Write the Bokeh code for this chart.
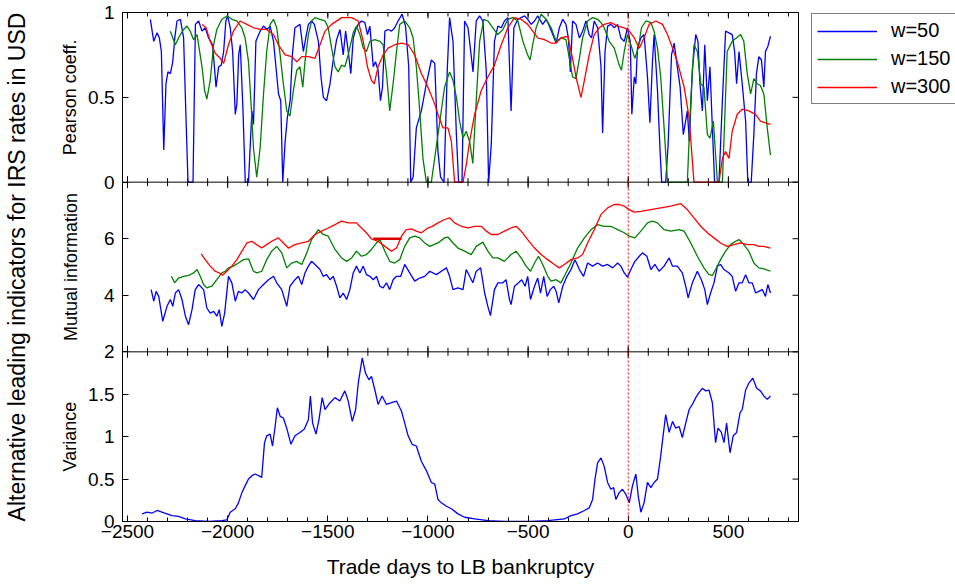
import math
from bokeh.plotting import figure
from bokeh.layouts import row
from bokeh.models import Range1d, LinearAxis, FixedTicker, Span, Legend, LegendItem
from bokeh.embed import file_html
from bokeh.resources import INLINE

# ---------------- data ----------------
# Pearson coefficient, w=50
pc50_x = [-2386, -2369, -2352, -2341, -2331, -2319, -2308, -2298, -2286, -2274, -2264, -2253, -2236, -2220, -2208, -2198,
          -2173, -2161, -2145, -2128, -2112, -2095, -2075, -2058, -2045, -2032, -2020, -2009, -2000, -1987, -1975, -1962,
          -1954, -1945, -1937, -1924, -1912, -1896, -1879, -1871, -1859, -1838, -1821, -1804, -1788, -1771, -1746, -1735,
          -1725, -1713, -1702, -1688, -1677, -1664, -1639, -1622, -1610, -1597, -1581, -1567, -1547, -1534, -1522, -1506,
          -1489, -1473, -1456, -1439, -1423, -1411, -1398, -1385, -1373, -1361, -1348, -1332, -1315, -1302, -1290, -1273,
          -1262, -1249, -1237, -1227, -1215, -1199, -1182, -1166, -1149, -1129, -1112, -1096, -1086, -1074, -1058, -1033,
          -1008, -983,
          -966, -950, -937, -920, -903, -892, -875, -858, -847, -830, -817, -800, -775, -759, -742, -726, -709, -697, -684,
          -668, -651, -634, -618, -601, -585, -571, -551, -518, -502, -485, -468, -452, -427, -410, -394, -377, -360, -344,
          -327, -311, -299, -289, -278, -261, -244, -228, -211, -195, -183, -170, -153, -136, -128, -116, -103, -87, -70,
          -53, -37, -20, -4, 10, 18, 30, 38, 46, 63, 79, 96, 108, 121, 129, 146, 159, 167, 187, 199, 216, 229, 245, 259,
          275, 295, 305, 320, 337, 348, 358, 370, 382, 395, 408, 420, 431, 453, 470, 486, 503, 519, 531, 541, 553, 569,
          586, 597, 614, 627, 640, 652, 665, 677, 685, 697, 710]
pc50_y = [0.96, 0.83, 0.88, 0.85, 0.77, 0.19, 0.58, 0.65, 0.64, 0.71, 0.85, 0.95, 0.96, 0.85, 0.38, 0.0,
          0.0, 0.93, 0.95, 0.89, 0.91, 0.85, 0.81, 0.56, 0.68, 0.69, 0.77, 0.95, 0.98, 0.91, 0.77, 0.40,
          0.46, 0.75, 0.81, 0.44, 0.0, 0.0, 0.42, 0.34, 0.83, 0.89, 0.92, 0.90, 0.92, 0.83, 0.52, 0.48,
          0.0, 0.24, 0.38, 0.48, 0.75, 0.91, 0.93, 0.77, 0.85, 0.93, 0.95, 0.93, 0.83, 0.62, 0.50, 0.48,
          0.58, 0.72, 0.84, 0.90, 0.75, 0.89, 0.77, 0.64, 0.85, 0.90, 0.93, 0.95, 0.94, 0.87, 0.92, 0.68,
          0.71, 0.66, 0.48, 0.56, 0.89, 0.90, 0.89, 0.91, 0.95, 0.99, 0.92, 0.68, 0.0, 0.03, 0.32, 0.42,
          0.58, 0.72,
          0.70, 0.18, 0.03, 0.0, 0.68, 0.97, 0.83, 0.28, 0.0, 0.0, 0.95, 0.91, 0.65, 0.95, 0.98, 0.95, 0.66, 0.0, 0.22,
          0.83, 0.92, 0.91, 0.95, 0.97, 0.42, 0.91, 0.96, 0.98, 0.96, 0.93, 0.95, 0.98, 0.93, 0.96, 0.92, 0.87, 0.82, 0.91,
          0.96, 0.93, 0.85, 0.65, 0.95, 0.93, 0.85, 0.89, 0.95, 0.87, 0.85, 0.95, 0.91, 0.68, 0.29, 0.77, 0.92, 0.93, 0.91,
          0.93, 0.85, 0.83, 0.91, 0.83, 0.40, 0.62, 0.58, 0.79, 0.85, 0.87, 0.62, 0.35, 0.71, 0.87, 0.54, 0.18, 0.0, 0.0,
          0.22, 0.75, 0.82, 0.68, 0.56, 0.28, 0.42, 0.24, 0.66, 0.87, 0.83, 0.58, 0.42, 0.81, 0.48, 0.68, 0.32, 0.0, 0.0,
          0.48, 0.89, 0.88, 0.87, 0.77, 0.58, 0.77, 0.58, 0.36, 0.0, 0.0, 0.28, 0.64, 0.74, 0.72, 0.56, 0.77, 0.80, 0.86]

# Pearson coefficient, w=150
pc150_x = [-2286, -2261, -2241, -2220, -2203, -2187, -2170, -2153, -2128, -2115, -2104, -2087, -2070, -2054, -2029,
           -2001, -1979, -1954, -1929, -1913, -1896, -1883, -1871, -1855, -1838, -1821, -1805, -1788, -1771, -1755,
           -1738, -1722, -1705, -1689, -1672, -1655, -1639, -1625, -1614, -1597, -1581, -1564, -1539, -1514, -1498,
           -1481, -1464, -1448, -1431, -1415, -1398, -1373, -1357, -1340, -1323, -1307, -1290, -1265, -1240, -1224,
           -1207, -1191, -1174, -1157, -1141, -1116, -1091, -1074, -1058, -1041, -1025, -1008,
           -983, -950, -917, -892, -875, -858, -842, -825, -809, -792, -776, -759, -742, -721, -701, -676, -651, -626,
           -601, -576, -551, -526, -502, -490, -477, -460, -435, -410, -385, -360, -336, -311, -294, -278, -261, -244,
           -228, -203, -178, -153, -136, -120, -95, -70, -45, -34, -20, -4, 13, 33, 50, 66, 88, 113, 129, 146, 162, 179,
           196, 295, 312, 328, 345, 362, 378, 395, 408, 425, 445, 470, 494, 519, 561, 577, 594, 611, 627, 644, 660, 677,
           694, 710]
pc150_y = [0.89, 0.81, 0.86, 0.90, 0.92, 0.89, 0.84, 0.87, 0.68, 0.54, 0.49, 0.60, 0.81, 0.90, 0.96,
           0.98, 0.96, 0.95, 0.91, 0.85, 0.71, 0.46, 0.20, 0.03, 0.20, 0.52, 0.77, 0.93, 0.96, 0.91,
           0.75, 0.58, 0.42, 0.39, 0.54, 0.66, 0.68, 0.56, 0.71, 0.87, 0.95, 0.97, 0.96, 0.95, 0.91,
           0.79, 0.68, 0.65, 0.69, 0.68, 0.75, 0.88, 0.92, 0.87, 0.79, 0.77, 0.83, 0.84, 0.83, 0.81,
           0.64, 0.42, 0.58, 0.77, 0.93, 0.95, 0.91, 0.85, 0.68, 0.42, 0.14, 0.0,
           0.0, 0.28, 0.56, 0.65, 0.60, 0.50, 0.36, 0.26, 0.30, 0.24, 0.11, 0.48, 0.83, 0.96, 0.95, 0.91, 0.87, 0.90,
           0.96, 0.97, 0.95, 0.83, 0.75, 0.72, 0.81, 0.91, 0.99, 0.96, 0.91, 0.83, 0.85, 0.84, 0.73, 0.62, 0.61, 0.73,
           0.85, 0.95, 0.97, 0.96, 0.94, 0.91, 0.83, 0.79, 0.69, 0.66, 0.77, 0.87, 0.81, 0.73, 0.79, 0.91, 0.95, 0.94,
           0.89, 0.79, 0.62, 0.32, 0.0, 0.0, 0.48, 0.81, 0.77, 0.58, 0.56, 0.28, 0.26, 0.36, 0.0, 0.0, 0.77, 0.83, 0.87,
           0.83, 0.64, 0.52, 0.61, 0.58, 0.57, 0.52, 0.32, 0.16]

# Pearson coefficient, w=300
pc300_x = [-2128, -2108, -2087, -2062, -2037, -2020, -1996, -1971, -1938, -1904, -1871, -1838, -1805, -1771, -1747,
           -1713, -1680, -1655, -1630, -1597, -1564, -1539, -1514, -1481, -1431, -1381, -1348, -1323, -1302, -1282,
           -1268, -1249, -1224, -1199, -1166, -1132, -1099, -1066, -1033, -1000, -966,
           -950, -925, -900, -883, -867, -825, -809, -792, -767, -734, -701, -668, -634, -601, -568, -535, -502, -477,
           -452, -419, -385, -360, -336, -302, -278, -261, -236, -219, -195, -170, -145, -120, -87, -53, -20, 5, 30, 55,
           79, 104, 138, 171, 196, 221, 245, 279, 304, 328, 453, 470, 486, 503, 519, 544, 569, 602, 636, 660, 685, 710]
pc300_y = [0.93, 0.91, 0.83, 0.76, 0.73, 0.70, 0.81, 0.89, 0.95, 0.93, 0.91, 0.90, 0.90, 0.87, 0.81,
           0.75, 0.74, 0.71, 0.74, 0.74, 0.73, 0.81, 0.89, 0.93, 0.97, 0.97, 0.95, 0.83, 0.68, 0.60,
           0.58, 0.68, 0.75, 0.79, 0.81, 0.82, 0.81, 0.75, 0.64, 0.56, 0.46,
           0.40, 0.32, 0.32, 0.24, 0.0, 0.0, 0.10, 0.24, 0.40, 0.54, 0.62, 0.69, 0.81, 0.91, 0.97, 0.96, 0.93, 0.89,
           0.85, 0.84, 0.82, 0.82, 0.85, 0.86, 0.73, 0.62, 0.50, 0.60, 0.75, 0.87, 0.91, 0.93, 0.94, 0.92, 0.91, 0.89,
           0.85, 0.79, 0.85, 0.93, 0.95, 0.93, 0.87, 0.79, 0.71, 0.56, 0.38, 0.0, 0.0, 0.14, 0.18, 0.14, 0.30, 0.40,
           0.43, 0.42, 0.40, 0.36, 0.35, 0.34]

# Mutual information, w=50
mi50_x = [-2382, -2369, -2357, -2344, -2324, -2303, -2286, -2274, -2261, -2245, -2228, -2211, -2195, -2178, -2162,
          -2145, -2120, -2104, -2087, -2070, -2054, -2042, -2029, -2015, -1996, -1979, -1962, -1946, -1929, -1913,
          -1896, -1871, -1846, -1821, -1796, -1771, -1755, -1730, -1705, -1689, -1664, -1647, -1630, -1614, -1597,
          -1581, -1564, -1539, -1523, -1506, -1489, -1473, -1456, -1440, -1423, -1406, -1390, -1373, -1357, -1340,
          -1323, -1307, -1290, -1273, -1257, -1240, -1224, -1207, -1191, -1174, -1157, -1136, -1116, -1091, -1066,
          -1041, -1016, -991,
          -958, -933, -908, -892, -875, -850, -825, -809, -792, -776, -759, -737, -717, -701, -688, -668, -651, -626,
          -610, -593, -585, -568, -548, -532, -515, -502, -488, -468, -452, -438, -422, -405, -389, -372, -360, -347,
          -327, -306, -286, -266, -244, -223, -203, -178, -153, -128, -103, -78, -53, -37, -20, -4, 13, 33, 55, 71, 93,
          113, 133, 154, 179, 204, 221, 245, 270, 287, 299, 320, 345, 365, 382, 395, 411, 428, 445, 461, 478, 503, 519,
          536, 553, 569, 586, 602, 619, 636, 652, 669, 685, 697, 710]
mi50_y = [4.20, 3.79, 4.14, 3.96, 3.08, 3.61, 3.85, 3.61, 4.08, 4.20, 3.85, 3.26, 2.96, 3.49, 4.20,
          4.38, 4.20, 3.55, 3.37, 3.43, 3.26, 3.49, 2.90, 3.37, 4.67, 4.44, 3.79, 4.14, 4.08, 4.20,
          4.08, 3.85, 4.20, 4.38, 4.55, 4.67, 4.44, 4.20, 3.61, 4.32, 4.55, 4.67, 4.38, 4.79, 5.03,
          5.20, 5.09, 4.91, 4.67, 4.73, 4.55, 4.67, 4.32, 3.91, 4.08, 3.85, 4.20, 4.79, 5.03, 4.79,
          5.03, 4.73, 4.67, 4.55, 4.67, 4.32, 4.26, 4.44, 4.20, 4.55, 4.67, 4.67, 5.09, 4.79, 4.50,
          4.61, 4.67, 4.85,
          4.73, 4.85, 4.97, 4.67, 4.20, 4.26, 4.20, 4.91, 4.67, 4.44, 4.85, 4.97, 4.08, 3.61, 3.28, 4.20, 4.44, 4.44,
          4.55, 3.85, 3.67, 4.32, 4.44, 4.55, 4.32, 4.67, 3.85, 4.32, 4.61, 4.08, 4.67, 3.96, 4.20, 4.32, 4.14, 3.73,
          4.32, 4.67, 4.91, 5.26, 4.91, 4.67, 5.14, 5.03, 5.14, 5.03, 5.09, 4.97, 5.14, 5.03, 4.79, 4.64, 4.91, 5.20,
          5.38, 5.50, 5.38, 4.91, 5.09, 4.85, 5.03, 5.32, 5.03, 5.03, 4.79, 4.32, 3.91, 4.44, 4.85, 4.55, 4.20, 3.67,
          4.08, 4.44, 5.03, 5.09, 4.91, 4.79, 4.67, 4.14, 4.44, 4.44, 4.73, 4.44, 4.44, 4.08, 4.14, 4.20, 3.96, 4.38,
          4.08]

# Mutual information, w=150
mi150_x = [-2281, -2265, -2245, -2220, -2195, -2170, -2153, -2137, -2120, -2104, -2079, -2054, -2029, -2012, -1996,
           -1971, -1946, -1921, -1896, -1871, -1855, -1830, -1805, -1780, -1755, -1730, -1705, -1680, -1655, -1630,
           -1605, -1581, -1547, -1523, -1498, -1464, -1431, -1406, -1381, -1357, -1332, -1307, -1282, -1257, -1240,
           -1215, -1191, -1166, -1141, -1116, -1091, -1066, -1041, -1016, -991,
           -950, -917, -900, -875, -850, -817, -784, -759, -726, -701, -676, -651, -618, -585, -560, -535, -510, -488,
           -468, -448, -427, -402, -385, -360, -336, -311, -286, -253, -219, -186, -153, -120, -87, -53, -20, 5, 33, 63,
           96, 121, 146, 179, 212, 254, 279, 312, 345, 378, 403, 420, 436, 461, 486, 511, 536, 553, 577, 602, 627, 652,
           677, 710]
mi150_y = [4.67, 4.44, 4.61, 4.67, 4.70, 4.79, 4.91, 4.67, 4.38, 4.26, 4.32, 4.55, 4.79, 4.85, 4.97,
           5.03, 5.14, 5.26, 5.29, 4.85, 4.79, 4.85, 5.26, 5.56, 5.73, 5.50, 4.97, 5.14, 5.20, 5.09,
           5.50, 5.97, 6.32, 6.15, 6.09, 5.62, 5.32, 5.20, 5.32, 5.56, 5.38, 5.44, 5.62, 5.85, 5.97,
           5.56, 5.20, 5.14, 5.26, 5.73, 6.03, 6.09, 6.03, 5.85, 5.73,
           5.85, 6.03, 6.06, 5.85, 5.67, 5.56, 5.44, 5.73, 5.88, 5.56, 5.32, 5.32, 5.20, 5.44, 5.56, 5.32, 5.03, 4.85,
           5.14, 5.38, 5.09, 4.67, 4.50, 4.55, 4.44, 4.79, 5.14, 5.67, 6.03, 6.32, 6.50, 6.44, 6.44, 6.32, 6.21, 6.09,
           6.03, 6.27, 6.56, 6.62, 6.56, 6.32, 6.27, 6.32, 6.27, 5.85, 5.38, 4.97, 4.73, 4.70, 4.91, 5.26, 5.56, 5.79,
           5.91, 5.97, 5.79, 5.56, 5.14, 4.97, 4.93, 4.85]

# Mutual information, w=300
mi300_x = [-2132, -2112, -2087, -2062, -2042, -2025, -2004, -1979, -1954, -1929, -1904, -1879, -1855, -1830, -1805,
           -1780, -1747, -1722, -1697, -1664, -1630, -1597, -1564, -1531, -1498, -1464, -1431, -1398, -1357, -1332,
           -1307, -1282, -1249, -1215, -1182, -1157, -1132, -1108, -1083, -1058, -1033, -1000,
           -983, -950, -917, -892, -867, -834, -800, -767, -734, -709, -684, -651, -618, -585, -560, -535, -502, -468,
           -435, -402, -369, -344, -319, -286, -253, -228, -203, -170, -136, -103, -70, -45, -20, 5, 30, 63, 113, 162,
           212, 262, 295, 328, 362, 395, 428, 461, 494, 528, 561, 594, 627, 652, 677, 710]
mi300_y = [5.46, 5.26, 5.03, 4.85, 4.79, 4.71, 4.85, 5.03, 5.26, 5.56, 5.85, 5.91, 5.79, 5.67, 5.79,
           5.91, 6.03, 5.85, 5.67, 5.79, 5.85, 5.91, 6.15, 6.27, 6.38, 6.50, 6.62, 6.56, 6.56, 6.38,
           6.21, 5.99, 5.91, 5.73, 5.56, 5.67, 6.09, 6.32, 6.35, 6.27, 6.21, 6.38,
           6.42, 6.56, 6.68, 6.74, 6.56, 6.44, 6.38, 6.44, 6.44, 6.27, 6.15, 6.15, 6.27, 6.38, 6.44, 6.27, 5.97, 5.67,
           5.44, 5.26, 5.09, 4.97, 5.09, 5.26, 5.32, 5.44, 5.85, 6.32, 6.86, 7.09, 7.21, 7.21, 7.15, 7.03, 6.94, 6.97,
           7.03, 7.09, 7.15, 7.24, 7.03, 6.74, 6.44, 6.21, 6.03, 5.85, 5.73, 5.79, 5.85, 5.79, 5.79, 5.73, 5.73, 5.67]
# short flat stretch of the w=300 curve drawn heavier in the original
mi300_flat_x = [-1273, -1132]
mi300_flat_y = [6.0, 6.0]

# Variance
var_x = [-2427, -2402, -2377, -2352, -2328, -2303, -2278, -2245, -2211, -2162, -2095, -2029, -2004, -1987, -1962,
         -1946, -1929, -1913, -1896, -1879, -1863, -1846, -1830, -1816, -1805, -1788, -1776, -1763, -1752, -1738,
         -1722, -1705, -1684, -1664, -1639, -1617, -1597, -1587, -1576, -1559, -1544, -1528, -1514, -1489, -1464,
         -1440, -1415, -1398, -1378, -1361, -1348, -1328, -1312, -1295, -1282, -1265, -1249, -1229, -1207, -1182,
         -1157, -1132, -1116, -1099, -1079, -1058, -1033, -1008, -983,
         -966, -950, -933, -908, -883, -850, -817, -767, -701, -618, -485, -402, -319, -286, -253, -219, -195, -178,
         -166, -153, -136, -120, -103, -87, -73, -62, -45, -29, -12, 5, 21, 38, 50, 63, 79, 96, 113, 129, 146, 162, 176,
         187, 204, 221, 237, 254, 270, 287, 304, 320, 337, 353, 370, 387, 403, 420, 436, 448, 465, 478, 491, 508, 524,
         541, 558, 569, 586, 602, 622, 641, 660, 677, 694, 710]
var_y = [0.09, 0.11, 0.10, 0.13, 0.11, 0.09, 0.07, 0.06, 0.03, 0.01, 0.00, 0.01, 0.02, 0.11, 0.15,
         0.22, 0.34, 0.42, 0.50, 0.54, 0.56, 0.54, 0.52, 0.93, 1.01, 1.03, 0.89, 1.12, 1.34, 1.24,
         1.22, 1.10, 0.91, 1.01, 1.05, 1.09, 1.20, 1.48, 1.16, 1.03, 1.20, 1.46, 1.32, 1.40, 1.46,
         1.42, 1.54, 1.42, 1.18, 1.32, 1.63, 1.93, 1.75, 1.67, 1.71, 1.55, 1.38, 1.48, 1.38, 1.40,
         1.42, 1.30, 1.16, 1.01, 0.91, 0.89, 0.71, 0.60, 0.46,
         0.44, 0.26, 0.22, 0.18, 0.15, 0.09, 0.05, 0.03, 0.01, 0.00, 0.00, 0.01, 0.03, 0.07, 0.09, 0.13, 0.16, 0.26,
         0.50, 0.69, 0.75, 0.65, 0.46, 0.38, 0.40, 0.26, 0.34, 0.38, 0.32, 0.22, 0.42, 0.56, 0.30, 0.11, 0.22, 0.46,
         0.40, 0.46, 0.50, 0.77, 1.05, 1.26, 1.05, 1.18, 1.10, 1.12, 0.99, 1.16, 1.32, 1.38, 1.46, 1.52, 1.57, 1.54,
         1.55, 1.40, 0.93, 1.10, 1.05, 0.93, 1.16, 0.81, 1.01, 1.05, 1.28, 1.32, 1.55, 1.63, 1.69, 1.57, 1.54, 1.48,
         1.44, 1.48]

for a, b in [(pc50_x, pc50_y), (pc150_x, pc150_y), (pc300_x, pc300_y), (mi50_x, mi50_y),
             (mi150_x, mi150_y), (mi300_x, mi300_y), (var_x, var_y)]:
    assert len(a) == len(b), (len(a), len(b))

# axes
x_major = [-2500, -2000, -1500, -1000, -500, 0, 500]
x_major_labels = ["\u22122500", "\u22122000", "\u22121500", "\u22121000", "\u2212500", "0", "500"]
x_minor = list(range(-2500, 900, 100))
X_LIM = (-2525, 850)

pc_ticks, pc_labels, pc_lim = [0, 0.5, 1], ["0", "0.5", "1"], (0.0, 1.0)
mi_ticks, mi_labels, mi_lim = [4, 6], ["4", "6"], (2.0, 8.0)
var_ticks, var_labels, var_lim = [0, 0.5, 1, 1.5, 2], ["0", "0.5", "1", "1.5", "2"], (0.0, 2.0)
panel_titles = ["Variance", "Mutual information", "Pearson coeff."]
y_title = "Alternative leading indicators for IRS rates in USD"
x_title = "Trade days to LB bankruptcy"

legend_labels = ["w=50", "w=150", "w=300"]
colors = ["#0000ff", "#008000", "#ff0000"]

FONT = "Liberation Sans"

# three stacked panels share one frame: each panel is one third of the frame height.
# the default y range is the mutual-information scale (middle panel)
mi_span = mi_lim[1] - mi_lim[0]
default_range = (mi_lim[0] - mi_span, mi_lim[1] + mi_span)
pc_span = pc_lim[1] - pc_lim[0]
pc_range = (pc_lim[0] - 2 * pc_span, pc_lim[1])
var_span = var_lim[1] - var_lim[0]
var_range = (var_lim[0], var_lim[1] + 2 * var_span)


def to_default(v, rng):
    f = (v - rng[0]) / (rng[1] - rng[0])
    return default_range[0] + f * (default_range[1] - default_range[0])


p = figure(width=805, height=584, x_range=Range1d(*X_LIM), y_range=Range1d(*default_range),
           output_backend="svg", toolbar_location=None, x_axis_location=None, y_axis_location=None,
           min_border_left=121, min_border_right=7, min_border_top=12, min_border_bottom=63)
p.extra_y_ranges = {"pc": Range1d(*pc_range), "var": Range1d(*var_range)}
p.grid.grid_line_color = None
p.outline_line_color = "black"
p.outline_line_alpha = 1.0
p.background_fill_color = "white"
p.border_fill_color = "white"

# ---- bottom x axis (ticks pointing inward)
xt = FixedTicker(ticks=x_major, minor_ticks=x_minor)
xb = LinearAxis(ticker=xt, major_tick_in=6, major_tick_out=0, minor_tick_in=4, minor_tick_out=0,
                axis_line_color="black", major_tick_line_color="black", minor_tick_line_color="black",
                major_label_overrides=dict(zip(x_major, x_major_labels)),
                major_label_text_font=FONT, major_label_text_font_size="19px", major_label_text_color="black",
                major_label_standoff=3,
                axis_label=x_title, axis_label_text_font=FONT,
                axis_label_text_font_size="21px", axis_label_text_font_style="normal",
                axis_label_text_color="black", axis_label_standoff=14)
p.add_layout(xb, "below")

# ---- y axis: tick positions of the three panels in the shared frame
y_pos, y_lab = [], []
for ticks, labels, rng in [(var_ticks, var_labels, var_range), (mi_ticks, mi_labels, default_range),
                           (pc_ticks, pc_labels, pc_range)]:
    for t, l in zip(ticks, labels):
        y_pos.append(to_default(t, rng))
        y_lab.append(l)
yt = FixedTicker(ticks=y_pos, minor_ticks=[])
yl = LinearAxis(ticker=yt, major_tick_in=6, major_tick_out=0, axis_line_color="black",
                major_tick_line_color="black", major_label_overrides=dict(zip(y_pos, y_lab)),
                major_label_text_font=FONT, major_label_text_font_size="19px", major_label_text_color="black",
                major_label_standoff=8)
p.add_layout(yl, "left")

# panel titles: an outer left axis whose ticks sit at the panel centres
centres = [to_default(sum(var_lim) / 2, var_range), sum(mi_lim) / 2, to_default(sum(pc_lim) / 2, pc_range)]
yt2 = FixedTicker(ticks=centres, minor_ticks=[])
yl2 = LinearAxis(ticker=yt2, axis_line_color=None, major_tick_line_color=None, major_tick_in=0, major_tick_out=0,
                 major_label_overrides=dict(zip(centres, panel_titles)), major_label_orientation="vertical",
                 major_label_text_font=FONT, major_label_text_font_size="18px", major_label_text_color="black",
                 major_label_standoff=5,
                 axis_label=y_title, axis_label_text_font=FONT, axis_label_text_font_size="23px",
                 axis_label_text_font_style="normal", axis_label_text_color="black", axis_label_standoff=28)
p.add_layout(yl2, "left")

# ---- inward ticks on the top and right edges and on both panel separators
# (dash markers centred on a line; on the frame edge the frame clips the outer half)
x_edges = [mi_lim[0], mi_lim[1], default_range[1]]
for b in x_edges:
    p.scatter(x=x_major, y=[b] * len(x_major), marker="dash", angle=math.pi / 2, size=12,
              line_color="black", line_width=1)
    p.scatter(x=x_minor, y=[b] * len(x_minor), marker="dash", angle=math.pi / 2, size=8,
              line_color="black", line_width=1)
p.scatter(x=[X_LIM[1]] * len(y_pos), y=y_pos, marker="dash", size=12, line_color="black", line_width=1)
for b in mi_lim:
    p.add_layout(Span(location=b, dimension="width", line_color="black", line_width=1))

# ---- data lines
LW = 1.3
for xs, ys, c in [(pc50_x, pc50_y, colors[0]), (pc150_x, pc150_y, colors[1]), (pc300_x, pc300_y, colors[2])]:
    p.line(xs, ys, y_range_name="pc", line_color=c, line_width=LW)
for xs, ys, c in [(mi50_x, mi50_y, colors[0]), (mi150_x, mi150_y, colors[1]), (mi300_x, mi300_y, colors[2])]:
    p.line(xs, ys, line_color=c, line_width=LW)
p.line(mi300_flat_x, mi300_flat_y, line_color="#dd0000", line_width=2.5)
p.line(var_x, var_y, y_range_name="var", line_color=colors[0], line_width=LW)

# ---- bankruptcy day marker
p.add_layout(Span(location=0, dimension="height", line_color="red", line_width=1, line_dash="2 2"))

# ---- legend panel to the right of the chart (box runs past the page edge, as in the original)
pl = figure(width=150, height=584, output_backend="svg", toolbar_location=None,
            x_range=Range1d(0, 1), y_range=Range1d(0, 1),
            x_axis_location=None, y_axis_location=None,
            min_border_left=5, min_border_top=10, min_border_right=0, min_border_bottom=0)
pl.grid.grid_line_color = None
pl.outline_line_color = None
pl.background_fill_color = "white"
pl.border_fill_color = "white"
keys = [pl.line([math.nan], [math.nan], line_color=c, line_width=LW) for c in colors]
legend = Legend(items=[LegendItem(label=l, renderers=[r]) for l, r in zip(legend_labels, keys)],
                location="top_left", orientation="vertical", border_line_color="black", border_line_width=1,
                background_fill_color="white", background_fill_alpha=1.0, label_text_font=FONT,
                label_text_font_size="20px", label_text_color="black", glyph_width=60, glyph_height=22,
                label_height=22, label_width=75, label_standoff=14, spacing=5, padding=5, margin=1)
pl.add_layout(legend, "center")

open("out.html", "w").write(file_html(row(p, pl), INLINE))
